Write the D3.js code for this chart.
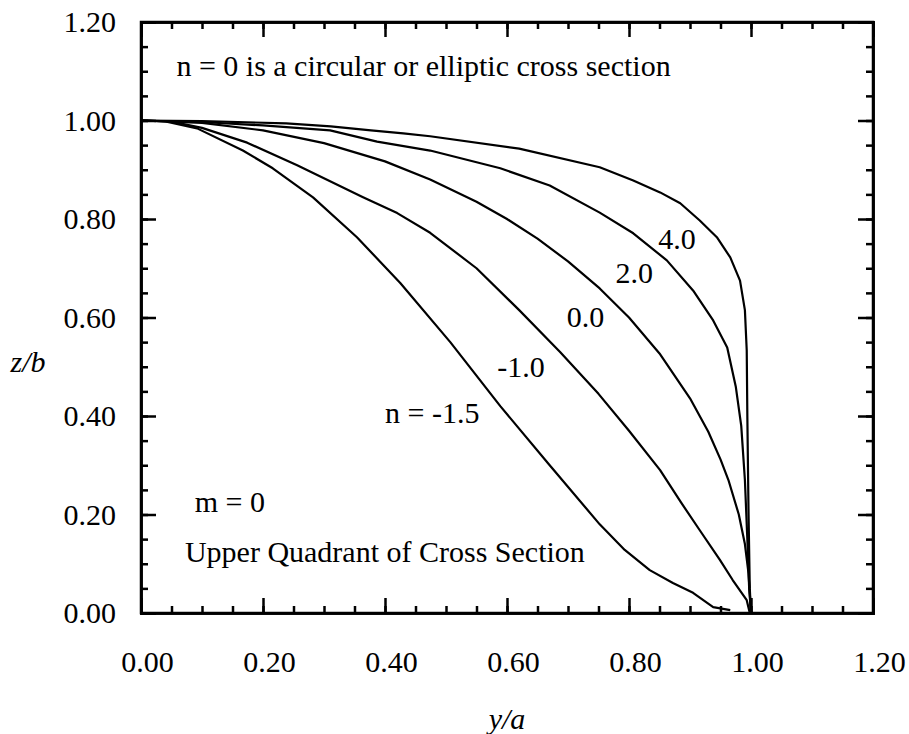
<!DOCTYPE html>
<html>
<head>
<meta charset="utf-8">
<script src="https://cdn.jsdelivr.net/npm/d3@7"></script>
<style>
  html, body { margin: 0; padding: 0; background: #fff; }
  svg { display: block; }
  text { font-family: "Liberation Serif", "Times New Roman", serif; fill: #000; }
  .axis path, .axis line { stroke: #000; }
  .axis path { stroke-width: 2.5; }
  .axis line { stroke-width: 2.5; }
  .curve { fill: none; stroke: #000; stroke-width: 2.2; stroke-linejoin: round; }
</style>
</head>
<body>
<svg id="chart" width="909" height="734"></svg>
<script>
// tick values for both axes (0.00 .. 1.20)
const majorTicks = [0, 0.2, 0.4, 0.6, 0.8, 1.0, 1.2];
const minorTicks = d3.range(0, 1.2001, 0.05);

// curves: [y/a, z/b]
const curveN40 = [[0, 1.0], [0.1, 0.999], [0.238, 0.994], [0.311, 0.988], [0.377, 0.980], [0.43, 0.974],
  [0.474, 0.968], [0.62, 0.943], [0.752, 0.905], [0.807, 0.878], [0.851, 0.854], [0.884, 0.832],
  [0.916, 0.797], [0.944, 0.763], [0.966, 0.722], [0.982, 0.675], [0.990, 0.615], [0.993, 0.533],
  [0.994, 0.40], [0.996, 0.20], [0.998, 0.05], [1.0, 0]];
const curveN20 = [[0, 1.0], [0.1, 0.997], [0.2, 0.99], [0.31, 0.980], [0.387, 0.957], [0.474, 0.939],
  [0.589, 0.903], [0.67, 0.868], [0.752, 0.813], [0.807, 0.771], [0.862, 0.716], [0.905, 0.655],
  [0.938, 0.594], [0.961, 0.539], [0.975, 0.46], [0.984, 0.38], [0.99, 0.27], [0.994, 0.15],
  [0.997, 0.05], [1.0, 0]];
const curveN00 = [[0, 1.0], [0.1, 0.995], [0.2, 0.98], [0.3, 0.954], [0.4, 0.917], [0.474, 0.88],
  [0.55, 0.835], [0.6, 0.80], [0.65, 0.76], [0.7, 0.714], [0.752, 0.659], [0.8, 0.60], [0.85, 0.527],
  [0.9, 0.436], [0.93, 0.368], [0.95, 0.312], [0.963, 0.27], [0.98, 0.20], [0.99, 0.14],
  [0.996, 0.08], [1.0, 0]];
const curveNm10 = [[0, 1.0], [0.05, 0.998], [0.1, 0.985], [0.174, 0.955], [0.256, 0.909], [0.364, 0.844],
  [0.42, 0.812], [0.474, 0.772], [0.55, 0.70], [0.62, 0.615], [0.687, 0.53], [0.75, 0.445],
  [0.80, 0.37], [0.851, 0.29], [0.885, 0.225], [0.916, 0.168], [0.949, 0.108], [0.970, 0.067],
  [0.993, 0.026], [0.998, 0]];
const curveNm15 = [[0, 1.0], [0.04, 0.998], [0.092, 0.984], [0.167, 0.939], [0.216, 0.903], [0.282, 0.844],
  [0.354, 0.763], [0.425, 0.67], [0.507, 0.55], [0.589, 0.42], [0.67, 0.30], [0.752, 0.18],
  [0.793, 0.128], [0.834, 0.087], [0.872, 0.061], [0.905, 0.041], [0.938, 0.012], [0.966, 0.006]];

const curves = [curveN40, curveN20, curveN00, curveNm10, curveNm15];

// curve labels and notes, anchored in data units
const curveLabels = [
  { text: '4.0', x: 0.848, y: 0.74 },
  { text: '2.0', x: 0.778, y: 0.67 },
  { text: '0.0', x: 0.698, y: 0.58 },
  { text: '-1.0', x: 0.584, y: 0.48 },
  { text: 'n = -1.5', x: 0.40, y: 0.385 },
];
const notes = [
  { text: 'n = 0 is a circular or elliptic cross section', x: 0.058, y: 1.09 },
  { text: 'm = 0', x: 0.088, y: 0.205 },
  { text: 'Upper Quadrant of Cross Section', x: 0.072, y: 0.104 },
];

const svg = d3.select('#chart');
const margin = { left: 141, right: 36, top: 22, bottom: 121 };
const W = 909, H = 734;
const iw = W - margin.left - margin.right;
const ih = H - margin.top - margin.bottom;

svg.append('rect').attr('width', W).attr('height', H).attr('fill', '#fff');
const g = svg.append('g').attr('transform', `translate(${margin.left},${margin.top})`);

const x = d3.scaleLinear().domain([0, 1.2]).range([0, iw]);
const y = d3.scaleLinear().domain([0, 1.2]).range([ih, 0]);
const fmt = d3.format('.2f');

// minor ticks on all four sides (inward)
g.append('g').attr('class', 'axis').attr('transform', `translate(0,${ih})`)
  .call(d3.axisBottom(x).tickValues(minorTicks).tickSize(-7).tickFormat(''));
g.append('g').attr('class', 'axis')
  .call(d3.axisTop(x).tickValues(minorTicks).tickSize(-7).tickFormat(''));
g.append('g').attr('class', 'axis')
  .call(d3.axisLeft(y).tickValues(minorTicks).tickSize(-7).tickFormat(''));
g.append('g').attr('class', 'axis').attr('transform', `translate(${iw},0)`)
  .call(d3.axisRight(y).tickValues(minorTicks).tickSize(-7).tickFormat(''));

// major ticks
const xAxis = g.append('g').attr('class', 'axis').attr('transform', `translate(0,${ih})`)
  .call(d3.axisBottom(x).tickValues(majorTicks).tickSize(-15).tickPadding(38).tickFormat(fmt));
g.append('g').attr('class', 'axis')
  .call(d3.axisTop(x).tickValues(majorTicks).tickSize(-15).tickFormat(''));
const yAxis = g.append('g').attr('class', 'axis')
  .call(d3.axisLeft(y).tickValues(majorTicks).tickSize(-15).tickPadding(25).tickFormat(fmt));
g.append('g').attr('class', 'axis').attr('transform', `translate(${iw},0)`)
  .call(d3.axisRight(y).tickValues(majorTicks).tickSize(-15).tickFormat(''));

[xAxis, yAxis].forEach((a) => a.selectAll('text')
  .style('font-family', '"Liberation Serif", serif').style('font-size', '30px').attr('fill', '#000'));
xAxis.selectAll('text').attr('dx', 6);

// frame
g.append('rect').attr('width', iw).attr('height', ih)
  .attr('fill', 'none').attr('stroke', '#000').attr('stroke-width', 2.5);

// curves
const line = d3.line().x((d) => x(d[0])).y((d) => y(d[1]));
g.selectAll('path.curve').data(curves).join('path')
  .attr('class', 'curve').attr('d', line);

// labels
g.selectAll('text.clabel').data(curveLabels.concat(notes)).join('text')
  .attr('class', 'clabel')
  .attr('x', (d) => x(d.x)).attr('y', (d) => y(d.y))
  .style('font-size', '30px')
  .text((d) => d.text);

// axis titles
svg.append('text').attr('x', margin.left + iw / 2).attr('y', 729)
  .attr('text-anchor', 'middle').style('font-size', '30px').style('font-style', 'italic').text('y/a');
svg.append('text').attr('x', 28).attr('y', 372)
  .attr('text-anchor', 'middle').style('font-size', '30px').style('font-style', 'italic').text('z/b');
</script>
</body>
</html>
